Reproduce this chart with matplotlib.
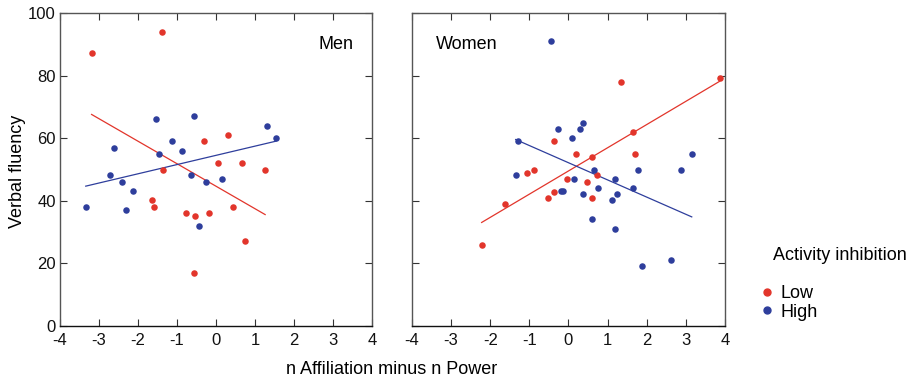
import numpy as np
import matplotlib
matplotlib.use("Agg")
import matplotlib.pyplot as plt
from matplotlib.lines import Line2D

plt.rcParams['font.family'] = ['Liberation Sans', 'DejaVu Sans']
plt.rcParams['axes.unicode_minus'] = False

# Men, low activity inhibition
men_low_x = [-3.19, -1.39, -1.63, -1.59, -1.36, -0.32, 0.31, 0.05, 0.67, 1.26, -0.76, -0.54, -0.19, 0.43, 0.75, -0.56]
men_low_y = [87.1, 94.0, 40.1, 38.0, 50.0, 59.0, 61.1, 52.0, 52.0, 50.0, 36.0, 35.1, 36.0, 38.0, 27.1, 17.0]
# Men, high activity inhibition
men_high_x = [-3.34, -2.71, -2.62, -2.41, -2.31, -2.12, -1.54, -1.45, -1.13, -0.87, -0.64, -0.56, -0.44, -0.25, 0.15, 1.30, 1.54]
men_high_y = [38.0, 48.1, 57.0, 46.1, 37.1, 43.0, 66.1, 55.0, 59.0, 56.0, 48.1, 67.0, 32.1, 46.1, 47.0, 64.0, 60.0]
# Women, low activity inhibition
women_low_x = [-2.22, -1.63, -1.07, -0.89, -0.52, -0.37, -0.36, -0.03, 0.18, 0.47, 0.61, 0.60, 0.72, 1.34, 1.65, 1.70, 3.86]
women_low_y = [26.0, 39.0, 49.0, 50.0, 41.0, 42.9, 59.0, 47.0, 55.0, 46.0, 54.0, 41.0, 48.1, 78.0, 62.0, 55.0, 79.1]
# Women, high activity inhibition
women_high_x = [-1.35, -1.28, -0.46, -0.28, -0.20, -0.13, 0.10, 0.15, 0.29, 0.38, 0.36, 0.65, 0.59, 0.76, 1.11, 1.19, 1.20, 1.25, 1.64, 1.77, 1.87, 2.61, 2.88, 3.15]
women_high_y = [48.1, 59.0, 91.0, 63.0, 43.0, 43.0, 60.0, 47.0, 63.0, 65.0, 42.1, 50.0, 34.1, 44.0, 40.1, 47.0, 31.0, 42.1, 44.0, 50.0, 19.1, 21.0, 50.0, 55.0]

panel_titles = ["Men", "Women"]
legend_title = "Activity inhibition"
legend_labels = ["Low", "High"]
x_ticks = [-4, -3, -2, -1, 0, 1, 2, 3, 4]
y_ticks = [0, 20, 40, 60, 80, 100]

RED = '#e2352b'
BLUE = '#2e3e9c'

fig = plt.figure(figsize=(9.12, 3.82), dpi=100)
W, H = 912, 382
ax1 = fig.add_axes([60 / W, 1 - 326 / H, 312 / W, 313 / H])
ax2 = fig.add_axes([412 / W, 1 - 326 / H, 313 / W, 313 / H])

data = [
    (men_low_x, men_low_y, men_high_x, men_high_y),
    (women_low_x, women_low_y, women_high_x, women_high_y),
]

for i, (ax, (lx, ly, hx, hy)) in enumerate(zip([ax1, ax2], data)):
    for xs, ys, c in [(lx, ly, RED), (hx, hy, BLUE)]:
        xs = np.array(xs); ys = np.array(ys)
        ax.scatter(xs, ys, s=22, color=c, linewidths=0, zorder=3)
        m, b = np.polyfit(xs, ys, 1)
        xr = np.array([xs.min(), xs.max()])
        ax.plot(xr, m * xr + b, color=c, lw=0.9, zorder=2)
    ax.set_xlim(-4, 4)
    ax.set_ylim(0, 100)
    ax.set_xticks(x_ticks)
    ax.set_yticks(y_ticks)
    ax.tick_params(direction='in', top=True, right=True, length=5, width=0.8,
                   labelsize=12, colors='#333333', labelcolor='#111111', pad=3)
    ax.tick_params(axis='x', pad=5)
    for sp in ['left', 'top', 'right']:
        ax.spines[sp].set_color('#555555')
        ax.spines[sp].set_linewidth(1.0)
    ax.spines['bottom'].set_color('#111111')
    ax.spines['bottom'].set_linewidth(1.0)
    if i == 0:
        ax.text(0.94, 0.90, panel_titles[i], transform=ax.transAxes, ha='right', va='center', fontsize=13)
    else:
        ax.text(0.077, 0.90, panel_titles[i], transform=ax.transAxes, ha='left', va='center', fontsize=13)
        ax.tick_params(labelleft=False)

fig.text(18 / W, 1 - 171 / H, "Verbal fluency", rotation=90, ha='center', va='center', fontsize=13)
fig.text(392 / W, 1 - 370 / H, "n Affiliation minus n Power", ha='center', va='center', fontsize=13)

fig.text(773 / W, 1 - 255 / H, legend_title, ha='left', va='center', fontsize=13)
handles = [Line2D([], [], marker='o', linestyle='none', color=RED, markersize=5),
           Line2D([], [], marker='o', linestyle='none', color=BLUE, markersize=5)]
leg = fig.legend(handles, legend_labels, loc='upper left',
                 bbox_to_anchor=(758 / W, 1 - 285 / H), frameon=False, fontsize=13,
                 handletextpad=0.25, handlelength=1.0, labelspacing=0.1, borderpad=0,
                 borderaxespad=0)

fig.savefig("out.png", dpi=100)
